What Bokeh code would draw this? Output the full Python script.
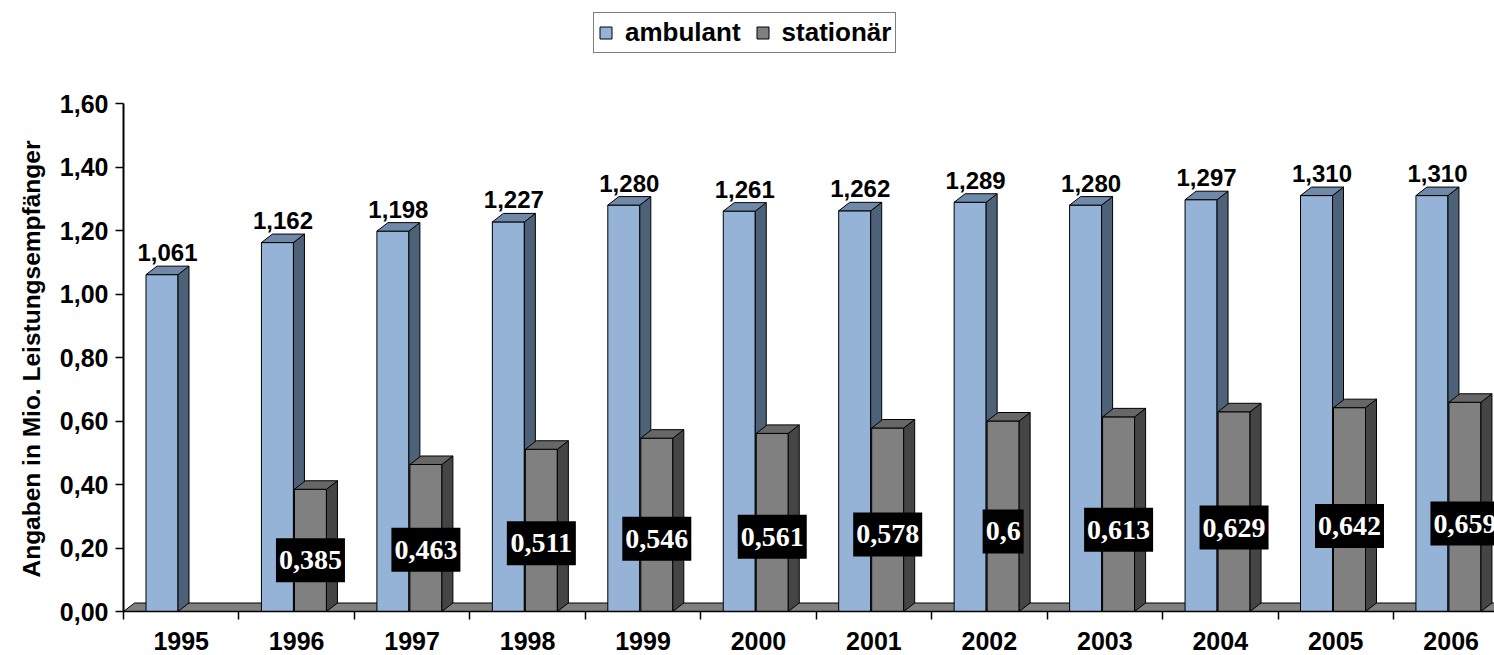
from bokeh.plotting import figure
from bokeh.models import (ColumnDataSource, FixedTicker, CustomJSTickFormatter,
                          Legend, LegendItem, Range1d, Title)
from bokeh.embed import file_html
from bokeh.resources import INLINE
from bokeh.core.properties import value

# ---------------- data ----------------
years = ["1995", "1996", "1997", "1998", "1999", "2000",
         "2001", "2002", "2003", "2004", "2005", "2006"]
ambulant = [1.061, 1.162, 1.198, 1.227, 1.280, 1.261,
            1.262, 1.289, 1.280, 1.297, 1.310, 1.310]
stationaer = [None, 0.385, 0.463, 0.511, 0.546, 0.561,
              0.578, 0.600, 0.613, 0.629, 0.642, 0.659]
series_names = ["ambulant", "stationär"]
y_ticks = [0, 0.2, 0.4, 0.6, 0.8, 1.0, 1.2, 1.4, 1.6]
y_title = "Angaben in Mio. Leistungsempfänger"

# ---------------- layout ----------------
W, H = 1494, 655
LEFT = 123
BOTTOM = 44
frame_w = W - LEFT
frame_h = H - BOTTOM
cat_px = 115.45
x_end = frame_w / cat_px
top_px = 103                     # canvas y of the 1,60 tick
y_end = 1.6 * frame_h / (frame_h - top_px)
px_per_y = frame_h / y_end
dx = 11 / cat_px                 # 3D depth
dy = 8.5 / px_per_y
bw = 32 / cat_px
offs = [22.5 / cat_px, 55.5 / cat_px]

FONT = "Liberation Sans"

p = figure(width=W, height=H, x_range=Range1d(0, x_end), y_range=Range1d(0, y_end),
           output_backend="svg", toolbar_location=None,
           min_border_left=LEFT, min_border_right=0, min_border_top=0,
           min_border_bottom=BOTTOM)
p.outline_line_color = None
p.grid.visible = False
p.background_fill_color = "white"

# floor
p.patch([0, x_end + 1, x_end + 1 + dx, dx], [0, 0, dy, dy],
        fill_color="#808080", line_color="black", line_width=1)

colors = [("#95B3D7", "#4D6179", "#7189A8"), ("#808080", "#454545", "#676767")]
fronts = []
for k, vals in enumerate([ambulant, stationaer]):
    left, right, tops = [], [], []
    sxs, sys_, txs, tys = [], [], [], []
    for i, v in enumerate(vals):
        if v is None:
            continue
        x0 = i + offs[k]
        x1 = x0 + bw
        left.append(x0); right.append(x1); tops.append(v)
        sxs.append([x1, x1 + dx, x1 + dx, x1]); sys_.append([0, dy, v + dy, v])
        txs.append([x0, x1, x1 + dx, x0 + dx]); tys.append([v, v, v + dy, v + dy])
    fc, sc, tc = colors[k]
    fr = p.quad(left=left, right=right, bottom=0, top=tops,
                fill_color=fc, line_color="black", line_width=1)
    p.patches(sxs, sys_, fill_color=sc, line_color="black", line_width=1)
    p.patches(txs, tys, fill_color=tc, line_color="black", line_width=1)
    fronts.append(fr)

# ambulant labels
amb_src = ColumnDataSource(dict(
    x=[i + offs[0] + bw / 2 + dx / 2 for i in range(len(years))],
    y=ambulant,
    t=[f"{v:.3f}".replace(".", ",") for v in ambulant]))
p.text(x="x", y="y", text="t", source=amb_src, text_align="center",
       text_baseline="alphabetic", y_offset=-22,
       text_font=value(FONT), text_font_style="bold", text_font_size="24px",
       text_color="black")

# stationaer labels (white on black boxes)
sx, sy, st, sw = [], [], [], []
for i, v in enumerate(stationaer):
    if v is None:
        continue
    t = f"{v:g}".replace(".", ",")
    sx.append(i + offs[1] + bw / 2)
    sy.append(v * 0.42)
    st.append(t)
    nd = sum(c.isdigit() for c in t)
    sw.append(nd * 14 + 7 + 6)
st_src = ColumnDataSource(dict(x=sx, y=sy, t=st, w=sw))
p.rect(x="x", y="y", width="w", height=44, width_units="screen", height_units="screen",
       source=st_src, fill_color="black", line_color=None)
p.text(x="x", y="y", text="t", source=st_src, text_align="center",
       text_baseline="middle", text_font=value("Liberation Serif"),
       text_font_style="bold", text_font_size="28px", text_color="white")

# y axis
ya = p.yaxis[0]
ya.ticker = FixedTicker(ticks=y_ticks)
ya.formatter = CustomJSTickFormatter(code="return tick.toFixed(2).replace('.', ',');")
ya.bounds = (0, 1.6)
ya.axis_line_color = "black"
ya.axis_line_width = 2
ya.major_tick_in = 0
ya.major_tick_out = 8
ya.major_tick_line_width = 1.5
ya.minor_tick_line_color = None
ya.major_label_standoff = 7
ya.major_label_text_font = FONT
ya.major_label_text_font_style = "bold"
ya.major_label_text_font_size = "25px"
ya.major_label_text_color = "black"

# y axis title (left panel, anchored near the bottom of the frame)
p.add_layout(Title(text=y_title, align="left", offset=34, standoff=22,
                   vertical_align="middle",
                   text_font=FONT, text_font_style="bold", text_font_size="24.5px",
                   text_color="black"), "left")

# x axis
xa = p.xaxis[0]
xa.ticker = FixedTicker(ticks=[i + 0.5 for i in range(len(years))],
                        minor_ticks=list(range(len(years))))
xa.formatter = CustomJSTickFormatter(args=dict(years=years),
                                     code="return years[Math.floor(tick)];")
xa.axis_line_color = "black"
xa.axis_line_width = 1.5
xa.major_tick_in = 0
xa.major_tick_out = 0
xa.minor_tick_in = 0
xa.minor_tick_out = 8
xa.minor_tick_line_color = "black"
xa.minor_tick_line_width = 1.5
xa.major_label_standoff = 12
xa.major_label_text_font = FONT
xa.major_label_text_font_style = "bold"
xa.major_label_text_font_size = "25px"
xa.major_label_text_color = "black"

# legend
legend = Legend(items=[LegendItem(label=series_names[0], renderers=[fronts[0]]),
                       LegendItem(label=series_names[1], renderers=[fronts[1]])],
                orientation="horizontal", location=(470, frame_h - 53),
                glyph_width=15, glyph_height=15, label_standoff=12, spacing=14,
                padding=4, margin=0,
                label_text_font=FONT, label_text_font_style="bold",
                label_text_font_size="26px", label_text_color="black",
                border_line_color="black", border_line_width=1.5,
                background_fill_color="white", background_fill_alpha=1)
p.add_layout(legend)

open("out.html", "w").write(file_html(p, INLINE))
